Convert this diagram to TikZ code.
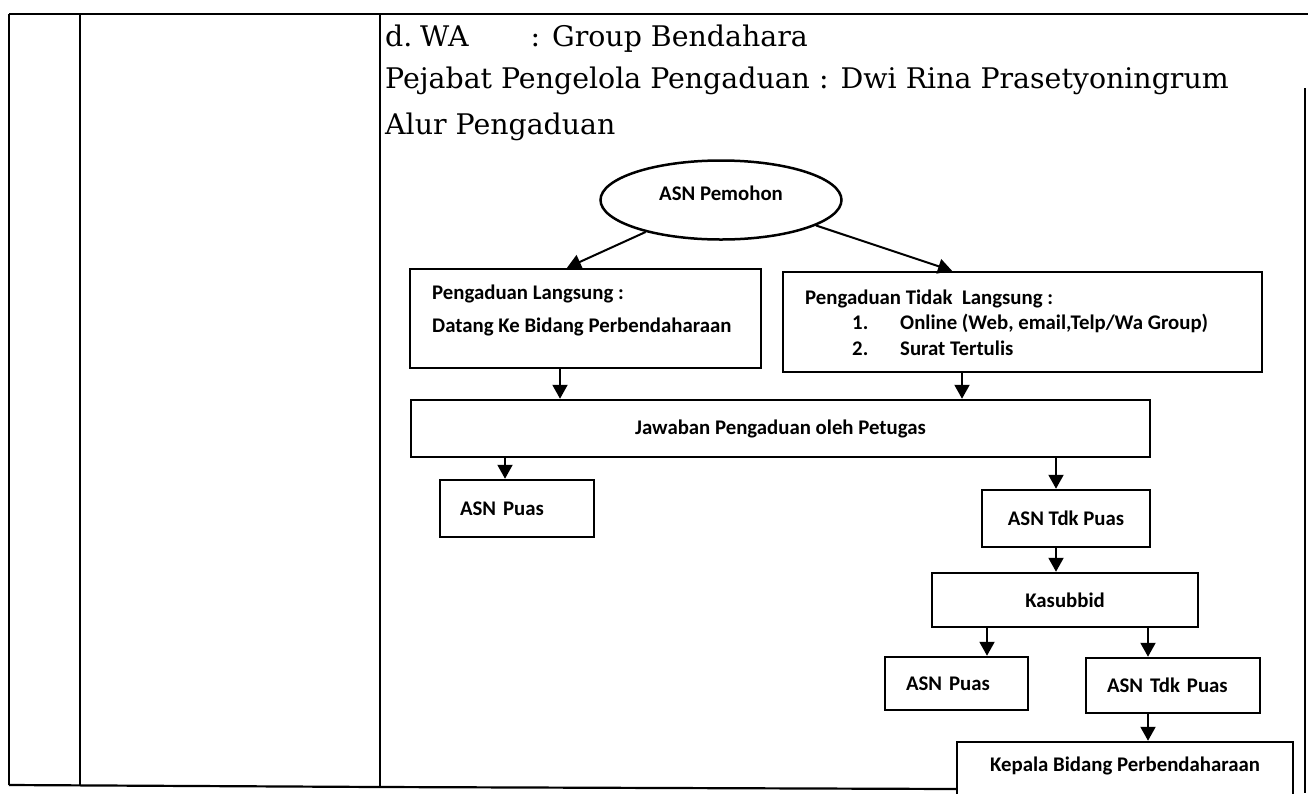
\documentclass[tikz,border=0pt]{standalone}
\usepackage{fontspec}
\setmainfont{DejaVu Serif}
\newfontfamily\carl{Carlito}
\usetikzlibrary{arrows.meta,shapes.geometric,calc}
\tikzset{
  box/.style={draw, line width=2.5pt, inner sep=0pt, font=\carl\bfseries\fontsize{20.8}{24}\selectfont},
  lbl/.style={inner sep=0pt, font=\carl\bfseries\fontsize{20.8}{24}\selectfont},
  serif/.style={inner sep=0pt, anchor=base west, font=\fontsize{28.4}{33}\selectfont},
  arr/.style={line width=2pt, -{Triangle[width=15pt,length=14pt]}},
  tline/.style={line width=2.2pt}
}
\begin{document}
\begin{tikzpicture}[x=1pt,y=-1pt]
\useasboundingbox (0,0) rectangle (1308,793);
\clip (0,0) rectangle (1308,793);
% table frame
\draw[tline] (9,14) -- (1308,14);
\draw[tline] (9,14) -- (9,785);
\draw[tline] (80,14) -- (80,785);
\draw[tline] (380,14) -- (380,787);
\draw[tline] (9,785) -- (380,787) -- (957,789);
\draw[tline] (1305,88) -- (1305,793);
% header texts
\node[serif] (t1a) at (385,46) {d.};
\node[serif] (t1b) at (420,46) {WA};
\node[serif, anchor=base east] (t1c) at (808,46) {: Group Bendahara};
\node[serif] (t2) at (385,88) {Pejabat Pengelola Pengaduan : Dwi Rina Prasetyoningrum};
\node[serif] (t3) at (385,134) {Alur Pengaduan};
% flowchart
\node[box, ellipse, minimum width=241, minimum height=79, text height=11pt, text depth=10pt] (ell) at (721,200) {ASN Pemohon};
\node[box, minimum width=351, minimum height=99] (lb) at (585.5,318.5) {};
\node[lbl, anchor=base west] (lb1) at (432,299) {Pengaduan Langsung :};
\node[lbl, anchor=base west] (lb2) at (432,332) {Datang Ke Bidang Perbendaharaan};
\node[box, minimum width=479, minimum height=100] (rb) at (1022.5,322) {};
\node[lbl, anchor=base west] (rb1) at (805,304) {Pengaduan Tidak\ \ Langsung :};
\node[lbl, anchor=base west] (rb2) at (852,329) {\makebox[48pt][l]{1.}Online (Web, email,Telp/Wa Group)};
\node[lbl, anchor=base west] (rb3) at (852,355) {\makebox[48pt][l]{2.}Surat Tertulis};
\node[box, minimum width=739, minimum height=57] (jaw) at (780.5,428.5) {Jawaban Pengaduan oleh Petugas};
\node[box, minimum height=57, inner xsep=20pt, text width=114pt, align=left] (p1) at (517,508.5) {ASN Puas};
\node[box, minimum width=168, minimum height=57] (t1) at (1066,518.5) {ASN Tdk Puas};
\node[box, minimum width=266, minimum height=54] (kas) at (1065,600) {Kasubbid};
\node[box, minimum height=53, inner xsep=21pt, text width=101pt, align=left] (p2) at (956.5,683.5) {ASN Puas};
\node[box, minimum height=55, inner xsep=21pt, text width=132pt, align=left] (t2b) at (1173,685.5) {ASN Tdk Puas};
\node[box, minimum width=336, minimum height=58, text height=11pt, text depth=11pt] (kep) at (1125,771) {Kepala Bidang Perbendaharaan};
% arrow x positions
\coordinate (axl) at (567,0);
\coordinate (axr) at (952,0);
\coordinate (ax1) at (560,0);
\coordinate (ax2) at (962,0);
\coordinate (ax3) at (505,0);
\coordinate (ax4) at (1056,0);
\coordinate (ax5) at (987,0);
\coordinate (ax6) at (1148,0);
% connectors
\draw[arr] (ell.203) -- (lb.north -| axl);
\draw[arr] (ell.-15) -- (rb.north -| axr);
\draw[arr] (lb.south -| ax1) -- (jaw.north -| ax1);
\draw[arr] (rb.south -| ax2) -- (jaw.north -| ax2);
\draw[arr] (jaw.south -| ax3) -- (p1.north -| ax3);
\draw[arr] (jaw.south -| ax4) -- (t1.north -| ax4);
\draw[arr] (t1.south -| ax4) -- (kas.north -| ax4);
\draw[arr] (kas.south -| ax5) -- (p2.north -| ax5);
\draw[arr] (kas.south -| ax6) -- (t2b.north -| ax6);
\draw[arr] (t2b.south -| ax6) -- (kep.north -| ax6);
\end{tikzpicture}
\end{document}
